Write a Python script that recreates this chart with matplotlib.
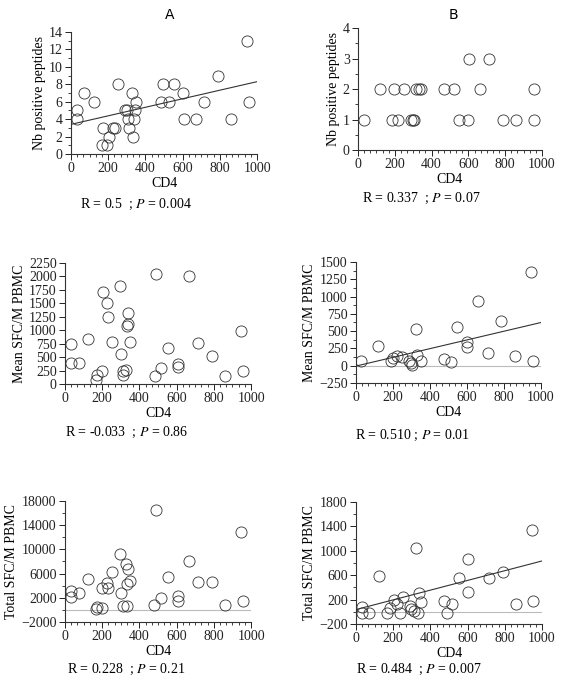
import numpy as np
import matplotlib
matplotlib.use("Agg")
import matplotlib.pyplot as plt
from matplotlib.ticker import MultipleLocator, AutoMinorLocator

plt.rcParams['font.family'] = ['Liberation Serif', 'DejaVu Serif']
plt.rcParams['mathtext.fontset'] = 'stix'

# --- data ---
# panel A, Nb positive peptides
a1_cd4 = [34, 34, 72, 126, 170, 169, 196, 205, 228, 237, 255, 290, 300, 307, 312, 330,
          335, 341, 345, 350, 483, 494, 524, 551, 601, 605, 670, 716, 788, 860, 946, 955]
a1_val = [5, 4, 7, 6, 3, 1, 1, 2, 3, 3, 8, 5, 5, 4, 3, 7,
          2, 4, 5, 6, 6, 8, 6, 8, 7, 4, 4, 6, 9, 4, 13, 6]

# panel B, Nb positive peptides
b1_cd4 = [31, 185, 216, 288, 297, 305, 548, 600, 790, 860, 955,
          118, 197, 248, 317, 330, 345, 469, 520, 665, 955,
          601, 714]
b1_val = [1, 1, 1, 1, 1, 1, 1, 1, 1, 1, 1,
          2, 2, 2, 2, 2, 2, 2, 2, 2, 2,
          3, 3]

# panel A, Mean SFC/M PBMC
a2_cd4 = [32, 32, 75, 122, 167, 170, 197, 205, 224, 233, 255, 293, 302, 310, 310, 329,
          332, 337, 341, 350, 485, 490, 515, 553, 607, 607, 668, 715, 790, 862, 946, 957]
a2_val = [746, 388, 388, 832, 80, 173, 234, 1714, 1510, 1251, 789, 1819, 555, 234, 160, 253,
          1079, 1110, 1325, 789, 142, 2053, 296, 678, 370, 308, 2010, 770, 512, 154, 993, 234]

# panel B, Mean SFC/M PBMC
b2_cd4 = [27, 117, 190, 202, 220, 247, 289, 296, 305, 323, 332, 350,
          473, 513, 545, 600, 600, 662, 711, 783, 861, 946, 955]
b2_val = [72, 288, 72, 106, 139, 120, 72, 43, 10, 524, 154, 72,
          91, 58, 553, 346, 274, 933, 178, 649, 139, 1356, 72]

# panel A, Total SFC/M PBMC
a3_cd4 = [32, 32, 75, 122, 167, 174, 201, 201, 224, 233, 251, 293, 302, 311, 329, 332,
          341, 332, 350, 479, 490, 515, 553, 607, 607, 668, 715, 790, 862, 946, 955]
a3_val = [3040, 2050, 2770, 5070, 140, 470, 300, 3590, 4520, 3590, 6330, 9180, 2770, 690, 7590, 580,
          6710, 4300, 4850, 850, 16470, 1950, 5400, 2330, 1510, 8080, 4580, 4580, 740, 12900, 1400]

# panel B, Total SFC/M PBMC
b3_cd4 = [32, 32, 72, 122, 167, 185, 204, 222, 235, 251, 289, 298, 310, 324, 333, 341,
          351, 475, 489, 516, 552, 602, 602, 713, 789, 858, 946, 953]
b3_val = [80, -13, -13, 592, -13, 69, 190, 135, -13, 245, 91, 53, 14, 1052, -13, 311,
          152, 179, -13, 135, 558, 860, 327, 558, 646, 135, 1340, 173]

# regression lines as printed: value at CD4 = 0 and at CD4 = 1000
fit_a1 = (3.4, 8.3)
fit_b2 = (-5, 625)
fit_b3 = (36, 833)

panels = [
    # (rect, x, y, ylim, first major, major step, minor step, ylabel, fit, zero line, text, text pos)
    ([0.1266, 0.7752, 0.3316, 0.1781], a1_cd4, a1_val, (0, 14), 0, 2, 1,
     'Nb positive peptides', fit_a1, False, 'R = 0.5  ; $P$ = 0.004', (0.143, 0.702)),
    ([0.6381, 0.7810, 0.3280, 0.1781], b1_cd4, b1_val, (0, 4), 0, 1, 0.5,
     'Nb positive peptides', None, False, 'R = 0.337  ; $P$ = 0.07', (0.645, 0.711)),
    ([0.1159, 0.4394, 0.3316, 0.1766], a2_cd4, a2_val, (0, 2250), 0, 250, 250,
     'Mean SFC/M PBMC', None, False, 'R = -0.033  ; $P$ = 0.86', (0.116, 0.369)),
    ([0.6346, 0.4409, 0.3298, 0.1766], b2_cd4, b2_val, (-250, 1500), -250, 250, 125,
     'Mean SFC/M PBMC', fit_b2, True, 'R = 0.510 ; $P$ = 0.01', (0.633, 0.365)),
    ([0.1159, 0.0920, 0.3316, 0.1766], a3_cd4, a3_val, (-2000, 18000), -2000, 4000, 2000,
     'Total SFC/M PBMC', None, True, 'R = 0.228  ; $P$ = 0.21', (0.119, 0.022)),
    ([0.6346, 0.0891, 0.3316, 0.1781], b3_cd4, b3_val, (-200, 1800), -200, 400, 200,
     'Total SFC/M PBMC', fit_b3, True, 'R = 0.484  ; $P$ = 0.007', (0.635, 0.022)),
]

fig = plt.figure(figsize=(5.61, 6.85), dpi=100)

for rect, xs, ys, ylim, y0, major, minor, ylabel, fit, zero, stat, tpos in panels:
    ax = fig.add_axes(rect)
    if zero:
        ax.plot([0, 1000], [0, 0], color='#bbbbbb', lw=0.8, zorder=1)
    ax.plot(xs, ys, 'o', ms=8, mfc='none', mec='#333333', mew=0.6, zorder=3)
    if fit is not None:
        ax.plot([0, 1000], fit, color='#333333', lw=0.8, zorder=2)
    ax.set_xlim(0, 1000)
    ax.set_ylim(*ylim)
    ax.xaxis.set_major_locator(MultipleLocator(200))
    ax.xaxis.set_minor_locator(AutoMinorLocator(6))
    ax.set_yticks(np.arange(y0, ylim[1] + 1e-9, major))
    ax.yaxis.set_minor_locator(MultipleLocator(minor))
    for s in ['top', 'right']:
        ax.spines[s].set_visible(False)
    for s in ['left', 'bottom']:
        ax.spines[s].set_linewidth(0.8)
        ax.spines[s].set_color('#333333')
    ax.tick_params(which='major', length=4, width=0.7, labelsize=10, pad=2, colors='#222222')
    ax.tick_params(which='minor', length=2.5, width=0.6, colors='#222222')
    ax.set_xlabel('CD4', fontsize=10, labelpad=1)
    ax.set_ylabel(ylabel, fontsize=10, labelpad=2)
    fig.text(tpos[0], tpos[1], stat, fontsize=10, ha='left', va='center')

fig.text(0.303, 0.978, 'A', fontsize=10, family='DejaVu Sans', ha='center', va='center')
fig.text(0.808, 0.978, 'B', fontsize=10, family='DejaVu Sans', ha='center', va='center')

fig.savefig('out.png', dpi=100)
